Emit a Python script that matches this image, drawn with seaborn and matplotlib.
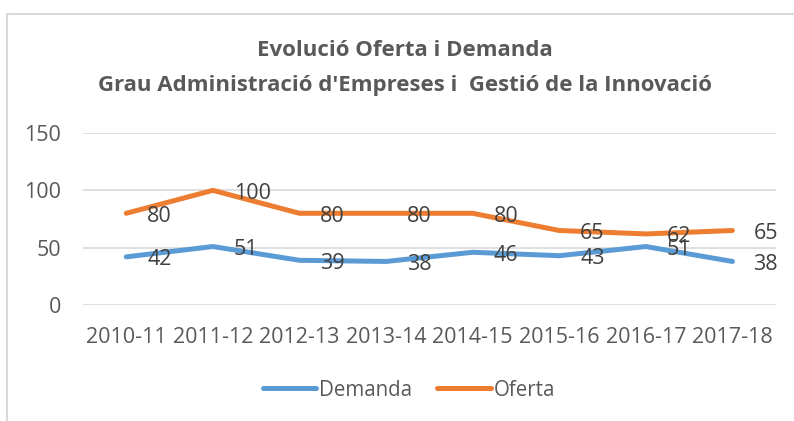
import pandas as pd
import matplotlib.pyplot as plt
import seaborn as sns
from matplotlib.lines import Line2D

# Data
cursos = ['2010-11', '2011-12', '2012-13', '2013-14', '2014-15', '2015-16', '2016-17', '2017-18']
demanda = [42, 51, 39, 38, 46, 43, 51, 38]
oferta = [80, 100, 80, 80, 80, 65, 62, 65]

df = pd.DataFrame({
    'Curs': cursos * 2,
    'Valor': demanda + oferta,
    'Serie': ['Demanda'] * len(cursos) + ['Oferta'] * len(cursos),
})

sns.set_theme(style='white')
plt.rcParams['font.family'] = ['Open Sans', 'DejaVu Sans']

colors = {'Demanda': '#5B9BD5', 'Oferta': '#ED7D31'}

fig = plt.figure(figsize=(7.94, 4.21), dpi=100)
ax = fig.add_axes([0.1045, 0.2755, 0.8725, 0.4085])

sns.lineplot(data=df, x='Curs', y='Valor', hue='Serie', palette=colors,
             linewidth=3.6, ax=ax, sort=False, legend=False,
             solid_capstyle='round', solid_joinstyle='round')

# data labels to the right of each point
for serie, vals in [('Demanda', demanda), ('Oferta', oferta)]:
    for i, v in enumerate(vals):
        ax.annotate(str(v), (i, v), xytext=(15, -2), textcoords='offset points',
                    ha='left', va='center', fontsize=15.5, color='#404040')

ax.set_xlim(-0.5, len(cursos) - 0.5)
ax.set_ylim(0, 150)
ax.set_yticks([0, 50, 100, 150])
ax.yaxis.grid(True, color='#D9D9D9', linewidth=1.2)
ax.xaxis.grid(False)
for s in ax.spines.values():
    s.set_visible(False)
ax.tick_params(axis='both', length=0, labelsize=15.5, labelcolor='#595959')
ax.tick_params(axis='x', pad=16)
ax.tick_params(axis='y', pad=16)
ax.set_xlabel('')
ax.set_ylabel('')

# title
fig.text(0.51, 1 - 51 / 421, 'Evolució Oferta i Demanda', ha='center', va='center',
         fontsize=16, fontweight='bold', color='#595959')
fig.text(0.51, 1 - 86 / 421, "Grau Administració d'Empreses i  Gestió de la Innovació",
         ha='center', va='center', fontsize=16, fontweight='bold', color='#595959')

# legend
handles = [Line2D([0], [0], color=colors[k], lw=3.6, solid_capstyle='round') for k in ['Demanda', 'Oferta']]
fig.legend(handles, ['Demanda', 'Oferta'], loc='center', bbox_to_anchor=(0.515, 1 - 390 / 421),
           ncol=2, frameon=False, fontsize=14.8, labelcolor='#595959',
           handlelength=2.6, handletextpad=0.15, columnspacing=1.2)

# chart border (top and left visible)
fig.add_artist(Line2D([7 / 794, 1.0], [1 - 14 / 421, 1 - 14 / 421], color='#D9D9D9', lw=1.5))
fig.add_artist(Line2D([7 / 794, 7 / 794], [0, 1 - 14 / 421], color='#D9D9D9', lw=1.5))

fig.savefig('out.png', dpi=100, facecolor='white')
